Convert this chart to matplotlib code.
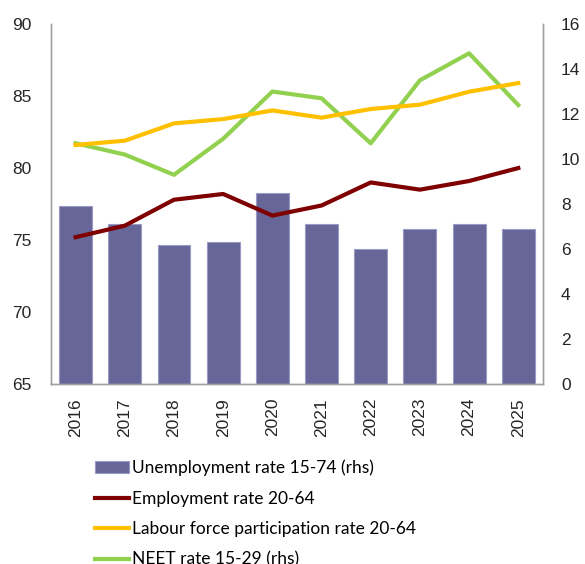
import matplotlib.pyplot as plt

years = ['2016', '2017', '2018', '2019', '2020', '2021', '2022', '2023', '2024', '2025']
unemployment = [7.9, 7.1, 6.2, 6.3, 8.5, 7.1, 6.0, 6.9, 7.1, 6.9]
employment = [75.2, 76.0, 77.8, 78.2, 76.7, 77.4, 79.0, 78.5, 79.1, 80.0]
participation = [81.6, 81.9, 83.1, 83.4, 84.0, 83.5, 84.1, 84.4, 85.3, 85.9]
neet = [10.7, 10.2, 9.3, 10.9, 13.0, 12.7, 10.7, 13.5, 14.7, 12.4]

plt.rcParams['font.family'] = ['Liberation Sans', 'DejaVu Sans']

fig = plt.figure(figsize=(5.85, 5.64), dpi=100)
ax = fig.add_axes([0.0872, 0.319, 0.8408, 0.6384])
ax2 = ax.twinx()

x = range(len(years))
bars = ax2.bar(x, unemployment, width=0.67, color='#666699', edgecolor='#9a9ac4',
               linewidth=0.8, label='Unemployment rate 15-74 (rhs)', zorder=1)
l1, = ax.plot(x, employment, color='#7f0000', lw=3, label='Employment rate 20-64', zorder=3)
l2, = ax.plot(x, participation, color='#ffc000', lw=3,
              label='Labour force participation rate 20-64', zorder=3)
l3, = ax2.plot(x, neet, color='#92d050', lw=3, label='NEET rate 15-29 (rhs)', zorder=5)

# left-axis lines go above the right-axis bars
ax.set_zorder(ax2.get_zorder() + 1)
ax.patch.set_visible(False)

ax.set_ylim(65, 90)
ax.set_yticks(range(65, 91, 5))
ax2.set_ylim(0, 16)
ax2.set_yticks(range(0, 17, 2))
ax.set_xlim(-0.5, len(years) - 0.5)
ax.set_xticks(list(x))
ax.set_xticklabels(years, rotation=90)

for a in (ax, ax2):
    a.spines['top'].set_visible(False)
    for s in ('left', 'right', 'bottom'):
        a.spines[s].set_color('#a0a0a0')
        a.spines[s].set_linewidth(1)
    a.tick_params(length=0, labelsize=12.5, colors='#262626')
ax.tick_params(axis='y', pad=14)
ax2.tick_params(axis='y', pad=13)
ax.tick_params(axis='x', pad=10)

fig.legend(handles=[bars, l1, l2, l3], loc='upper left', bbox_to_anchor=(0.162, 0.185),
           frameon=False, prop={'family': 'Lato', 'size': 12.5},
           handlelength=2.0, handletextpad=0.17, labelspacing=0.83,
           borderaxespad=0, borderpad=0)

fig.savefig('out.png', dpi=100)
